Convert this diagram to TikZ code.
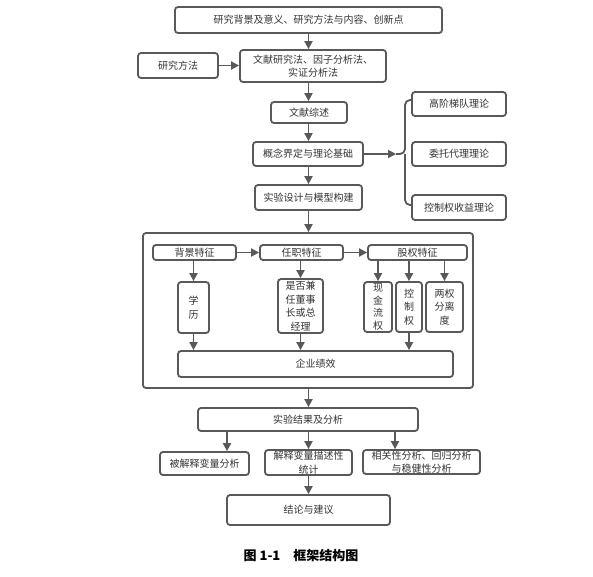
\documentclass[tikz,border=0pt]{standalone}
\usepackage{fontspec}
\setmainfont{Noto Sans CJK SC}
\usetikzlibrary{arrows.meta,calc}
\definecolor{ln}{HTML}{595959}
\definecolor{tx}{HTML}{333333}
\tikzset{
  box/.style={draw=ln, line width=1.8pt, rounded corners=3pt, fill=white, inner sep=0pt,
    text=tx, font=\fontsize{10}{13.5}\selectfont, align=center},
  conn/.style={draw=ln, line width=1.8pt},
  arr/.style={conn, -{Triangle[length=8pt,width=8pt]}},
}
\newcommand{\bx}[6]{\node[box, minimum width=#3pt, minimum height=#4pt] (#1) at (#2) {#6};}
\begin{document}
\begin{tikzpicture}[x=1pt,y=-1pt]
\useasboundingbox[fill=white] (0,0) rectangle (593,576);
% outer container
\node[box, minimum width=330pt, minimum height=155pt, fill=none] (outer) at (308,310.5) {};
\bx{top}{308.5,20}{267}{26}{}{研究背景及意义、研究方法与内容、创新点}
\bx{meth}{178,65.5}{80}{25}{}{研究方法}
\bx{wx}{313,66}{146}{32}{}{文献研究法、因子分析法、\\实证分析法}
\bx{zs}{309,112.5}{76}{21}{}{文献综述}
\bx{gn}{308,154}{110}{24}{}{概念界定与理论基础}
\bx{sy}{308.5,197.5}{107}{25}{}{实验设计与模型构建}
\bx{t1}{459,104}{94}{24}{}{高阶梯队理论}
\bx{t2}{459,154}{94}{24}{}{委托代理理论}
\bx{t3}{459,207.5}{94}{25}{}{控制权收益理论}
\bx{bj}{194.5,252.5}{83}{15}{}{背景特征}
\bx{rz}{301.5,252.5}{83}{15}{}{任职特征}
\bx{gq}{417.5,252.5}{99}{15}{}{股权特征}
\bx{xl}{193.5,307.5}{31}{51}{}{学\\历}
\bx{sf}{300.5,306}{45}{54}{}{是否兼\\任董事\\长或总\\经理}
\node[box, minimum width=28pt, minimum height=50pt, font=\fontsize{10}{12.8}\selectfont] (xj) at (378,307) {现\\金\\流\\权};
\bx{kz}{409,307}{26}{50}{}{控\\制\\权}
\bx{lq}{444.5,307}{37}{50}{}{两权\\分离\\度}
\bx{qy}{315.5,364}{275}{26}{}{企业绩效}
\bx{jg}{308,419.5}{220}{23}{}{实验结果及分析}
\bx{b1}{204.5,463.5}{89}{23}{}{被解释变量分析}
\bx{b2}{308.5,462.5}{87}{25}{}{解释变量描述性\\统计}
\bx{b3}{421.5,462}{117}{24}{}{相关性分析、回归分析\\与稳健性分析}
\bx{jl}{308.5,510}{163}{30}{}{结论与建议}
\node[text=black, font=\fontsize{13}{15}\selectfont\bfseries, anchor=center] (cap) at (301,556) {图 1-1\quad 框架结构图};
% main chain
\draw[arr] (top.south) -- (top.south |- wx.north);
\draw[arr] (meth.east) -- (meth.east -| wx.west);
\draw[arr] (top.south |- wx.south) -- (top.south |- zs.north);
\draw[arr] (top.south |- zs.south) -- (top.south |- gn.north);
\draw[arr] (top.south |- gn.south) -- (top.south |- sy.north);
\draw[arr] (top.south |- sy.south) -- (top.south |- outer.north);
\draw[arr] (top.south |- outer.south) -- (top.south |- jg.north);
% theory brace
\coordinate (tip) at (396,154);
\draw[arr] (gn.east) -- (tip);
\draw[conn, rounded corners=5pt] ($(t1.west)+(0,-4)$) -- (405,100) -- (405,154) -- (tip);
\draw[conn, rounded corners=5pt] ($(t3.west)+(0,-2.5)$) -- (405,205) -- (405,154);
% inner
\draw[arr] (bj.east) -- (rz.west);
\draw[arr] (rz.east) -- (gq.west);
\draw[arr] (bj.south -| xl.north) -- (xl.north);
\draw[arr] (xl.south) -- (xl.south |- qy.north);
\draw[arr] (rz.south -| sf.north) -- (sf.north);
\draw[arr] (sf.south) -- (sf.south |- qy.north);
\draw[arr] (gq.south -| xj.north) -- (xj.north);
\draw[arr] (gq.south -| kz.north) -- (kz.north);
\draw[arr] (gq.south -| lq.north) -- (lq.north);
\draw[arr] (kz.south) -- (kz.south |- qy.north);
% results
\draw[arr] (jg.south -| 227,0) -- (b1.north -| 227,0);
\draw[arr] (jg.south -| b2.north) -- (b2.north);
\draw[arr] (jg.south -| 395,0) -- (b3.north -| 395,0);
\draw[arr] (b2.south) -- (b2.south |- jl.north);
\end{tikzpicture}
\end{document}
